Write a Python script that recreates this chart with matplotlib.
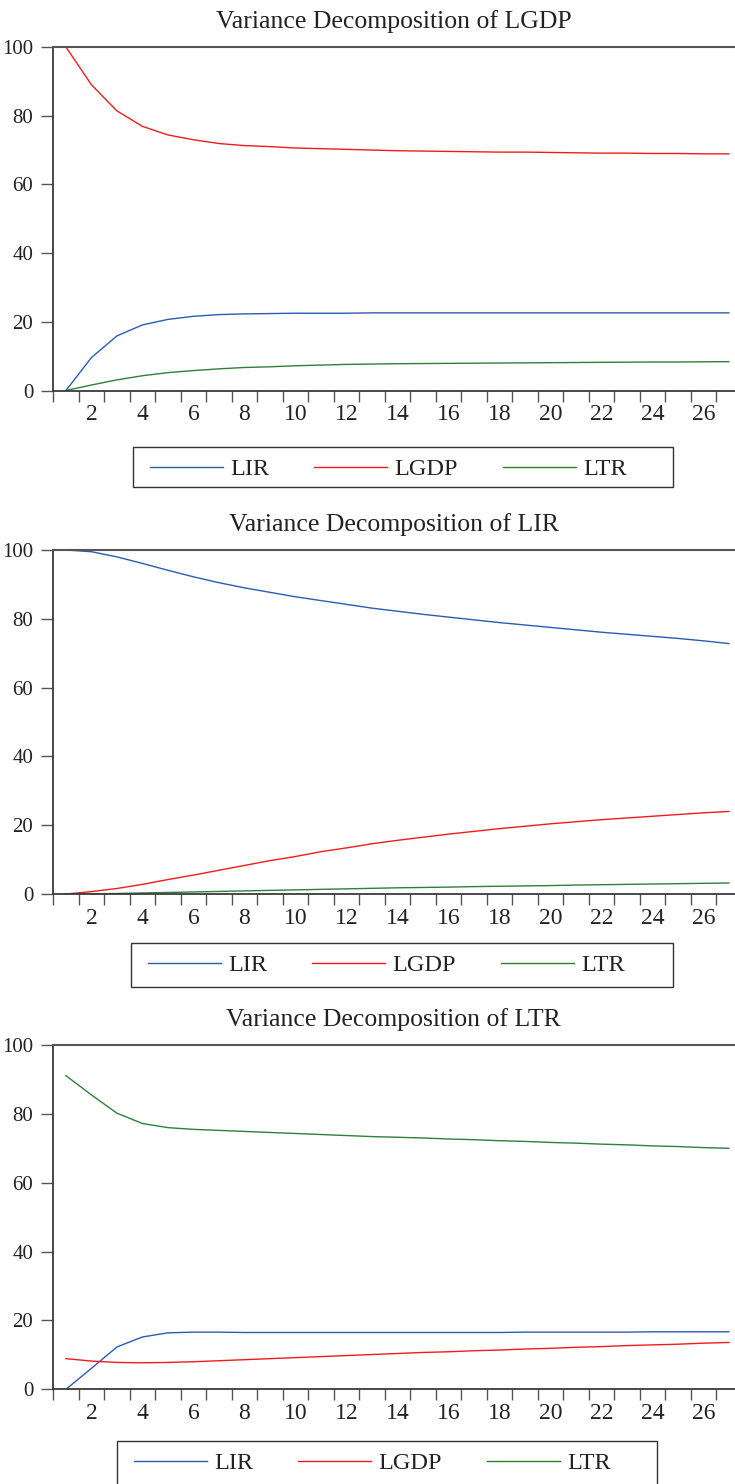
import matplotlib
matplotlib.use("Agg")
from matplotlib import pyplot as plt
from matplotlib.patches import Rectangle
import numpy as np

plt.rcParams['font.family'] = ['Liberation Serif', 'DejaVu Serif']

periods = list(range(1, 28))
series_names = ['LIR', 'LGDP', 'LTR']
series_colors = ['#2a5cb4', '#f01c1c', '#2e7f3c']
titles = ['Variance Decomposition of LGDP',
          'Variance Decomposition of LIR',
          'Variance Decomposition of LTR']

# variance decomposition of LGDP
gdp_lir = [0, 9.6, 15.9, 19.1, 20.7, 21.6, 22.1, 22.3, 22.4, 22.5, 22.5, 22.5, 22.6, 22.6,
           22.6, 22.6, 22.6, 22.6, 22.6, 22.6, 22.6, 22.6, 22.6, 22.6, 22.6, 22.6, 22.6]
gdp_lgdp = [100, 89.0, 81.4, 76.9, 74.4, 73.0, 71.9, 71.3, 71.0, 70.6, 70.4, 70.2, 70.0, 69.8,
            69.7, 69.6, 69.5, 69.4, 69.4, 69.3, 69.2, 69.1, 69.1, 69.0, 69.0, 68.9, 68.9]
gdp_ltr = [0, 1.6, 3.1, 4.3, 5.2, 5.8, 6.3, 6.7, 6.9, 7.2, 7.4, 7.6, 7.7, 7.8,
           7.85, 7.9, 7.95, 8.0, 8.05, 8.1, 8.15, 8.2, 8.25, 8.3, 8.3, 8.35, 8.4]

# variance decomposition of LIR
ir_lir = [100, 99.5, 98.0, 96.1, 94.1, 92.2, 90.5, 89.0, 87.7, 86.4, 85.3, 84.2, 83.1, 82.2,
          81.3, 80.5, 79.7, 78.9, 78.2, 77.5, 76.8, 76.1, 75.5, 74.9, 74.3, 73.6, 72.8]
ir_lgdp = [0, 0.7, 1.6, 2.8, 4.2, 5.5, 6.9, 8.3, 9.7, 10.9, 12.3, 13.4, 14.6, 15.6,
           16.5, 17.4, 18.2, 19.0, 19.7, 20.4, 21.0, 21.6, 22.1, 22.6, 23.1, 23.6, 24.0]
ir_ltr = [0, 0.05, 0.15, 0.3, 0.45, 0.6, 0.75, 0.9, 1.05, 1.2, 1.35, 1.5, 1.65, 1.8,
          1.9, 2.0, 2.15, 2.25, 2.35, 2.45, 2.6, 2.7, 2.8, 2.9, 3.0, 3.1, 3.2]

# variance decomposition of LTR
ltr_lir = [0, 6.1, 12.3, 15.2, 16.4, 16.6, 16.6, 16.5, 16.5, 16.5, 16.5, 16.5, 16.5, 16.5,
           16.5, 16.5, 16.5, 16.5, 16.6, 16.6, 16.6, 16.6, 16.6, 16.7, 16.7, 16.7, 16.7]
ltr_lgdp = [8.9, 8.2, 7.8, 7.7, 7.8, 8.0, 8.3, 8.6, 8.9, 9.2, 9.5, 9.8, 10.1, 10.4,
            10.7, 10.9, 11.2, 11.4, 11.7, 11.9, 12.2, 12.4, 12.7, 12.9, 13.1, 13.4, 13.6]
ltr_ltr = [91.1, 85.5, 80.2, 77.2, 76.0, 75.5, 75.2, 74.9, 74.6, 74.3, 74.0, 73.7, 73.4, 73.2,
           73.0, 72.7, 72.5, 72.2, 72.0, 71.7, 71.5, 71.2, 71.0, 70.7, 70.5, 70.2, 70.0]

panels = [(gdp_lir, gdp_lgdp, gdp_ltr),
          (ir_lir, ir_lgdp, ir_ltr),
          (ltr_lir, ltr_lgdp, ltr_ltr)]

W, H = 735, 1484
fig = plt.figure(figsize=(W / 100, H / 100), dpi=100)

# pixel boxes (top, bottom) of each plot area and its legend box
ax_rows = [(47, 390.5), (550, 894), (1045, 1389.3)]
leg_boxes = [(133, 447, 673, 487), (131, 943, 673, 987), (117, 1441, 657, 1490)]
left_px = 52.7

text_col = '#222222'
spine_col = '#3a3a3a'

for i, (top, bot) in enumerate(ax_rows):
    ax = fig.add_axes([left_px / W, 1 - bot / H, 1 - left_px / W, (bot - top) / H])
    for vals, name, col in zip(panels[i], series_names, series_colors):
        ax.plot(periods, vals, color=col, lw=1.0, label=name)
    ax.set_xlim(0.48, 27.24)
    ax.set_ylim(0, 100)
    ax.spines['right'].set_visible(False)
    ax.spines['top'].set_color('#555555')
    ax.spines['top'].set_linewidth(1.5)
    for s in ('left', 'bottom'):
        ax.spines[s].set_color(spine_col)
        ax.spines[s].set_linewidth(1.3)

    ax.set_yticks([0, 20, 40, 60, 80, 100])
    ax.tick_params(axis='y', direction='out', length=9, width=1.0, color='#555555',
                   pad=5, labelsize=15, labelcolor=text_col)
    # unlabeled ticks between periods, labels on even periods
    ax.set_xticks(np.arange(0.5, 27, 1.0))
    ax.set_xticklabels([])
    ax.tick_params(axis='x', which='major', direction='out', length=8, width=1.0,
                   color='#555555')
    ax.set_xticks(np.arange(2, 27, 2), minor=True)
    ax.set_xticklabels([str(v) for v in range(2, 27, 2)], minor=True)
    ax.tick_params(axis='x', which='minor', length=0, pad=10, labelsize=17,
                   labelcolor=text_col)

    ax.set_title(titles[i], fontsize=18.5, color=text_col, pad=14)

    x0, y0, x1, y1 = leg_boxes[i]
    fig.patches.append(Rectangle((x0 / W, 1 - y1 / H), (x1 - x0) / W, (y1 - y0) / H,
                                 transform=fig.transFigure, fill=False,
                                 edgecolor='#333333', lw=1.0))
    handles, labels = ax.get_legend_handles_labels()
    fig.legend(handles, labels, ncol=3, frameon=False, loc='center left',
               bbox_to_anchor=((x0 + 17) / W, 1 - (y0 + 22) / H),
               borderaxespad=0, borderpad=0,
               fontsize=17.5, handlelength=3.0, handletextpad=0.3,
               columnspacing=1.85, labelcolor=text_col)

fig.savefig('out.png', dpi=100)
